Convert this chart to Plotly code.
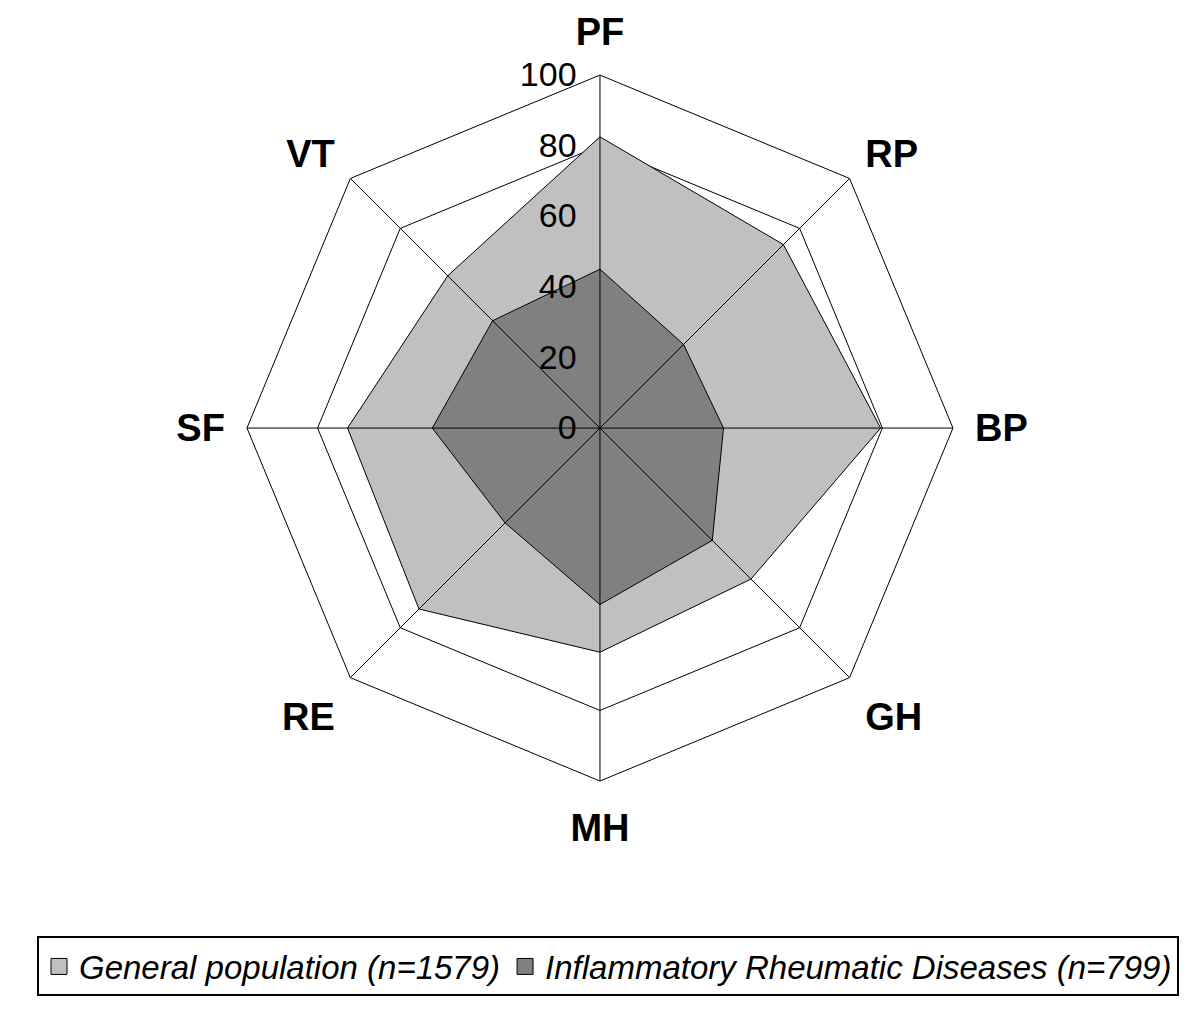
import plotly.graph_objects as go

# SF-36 domains, clockwise from the top
categories = ["PF", "RP", "BP", "GH", "MH", "RE", "SF", "VT"]

general_pop = [82.5, 73.5, 79.5, 60.5, 63.5, 72.5, 71.5, 61]
ird = [45, 33.5, 35, 45, 50, 38, 47.5, 43]

series_names = ["General population (n=1579)",
                "Inflammatory Rheumatic Diseases (n=799)"]
series_colors = ["#c0c0c0", "#808080"]
radial_ticks = [0, 20, 40, 60, 80, 100]

fig = go.Figure()

# Filled polygons (closed by repeating the first point)
for vals, color in zip([general_pop, ird], series_colors):
    fig.add_trace(go.Scatterpolar(
        r=vals + vals[:1],
        theta=categories + categories[:1],
        fill="toself",
        fillcolor=color,
        line=dict(color="black", width=1),
        mode="lines",
        showlegend=False,
        hoverinfo="skip",
    ))

# Spokes drawn above the fills, as in the original
for cat in categories:
    fig.add_trace(go.Scatterpolar(
        r=[0, radial_ticks[-1]],
        theta=[cat, cat],
        mode="lines",
        line=dict(color="black", width=1),
        showlegend=False,
        hoverinfo="skip",
    ))

# Legend-only entries so the legend shows little filled squares
for name, color in zip(series_names, series_colors):
    fig.add_trace(go.Scatterpolar(
        r=[None],
        theta=[categories[0]],
        mode="markers",
        marker=dict(symbol="square", size=16, color=color,
                    line=dict(color="black", width=1)),
        name="<i>%s</i>" % name,
    ))

fig.update_layout(
    width=1200,
    height=1010,
    margin=dict(l=0, r=0, t=0, b=0),
    paper_bgcolor="white",
    font=dict(family="Liberation Sans, Arial, sans-serif", color="black"),
    polar=dict(
        domain=dict(x=[0.1991, 0.7875], y=[0.2346, 0.9336]),
        gridshape="linear",
        bgcolor="white",
        radialaxis=dict(
            range=[0, 100],
            tickvals=radial_ticks,
            angle=90,
            tickangle=90,
            side="counterclockwise",
            showline=False,
            gridcolor="black",
            gridwidth=1,
            # invisible ticks just to push the labels off the spoke
            ticks="outside",
            ticklen=11,
            tickcolor="rgba(0,0,0,0)",
            tickfont=dict(size=34),
        ),
        angularaxis=dict(
            rotation=90,
            direction="clockwise",
            showline=True,
            linecolor="black",
            linewidth=1,
            showgrid=False,
            ticks="outside",
            ticklen=14,
            tickcolor="rgba(0,0,0,0)",
            tickfont=dict(size=38),
            tickvals=categories,
            ticktext=["<b>%s</b>" % c for c in categories],
        ),
    ),
    showlegend=True,
    legend=dict(
        orientation="h",
        x=0.5,
        xanchor="center",
        y=0.051,
        yanchor="middle",
        bordercolor="black",
        borderwidth=2,
        font=dict(size=33),
    ),
)

fig.write_html("out.html")
